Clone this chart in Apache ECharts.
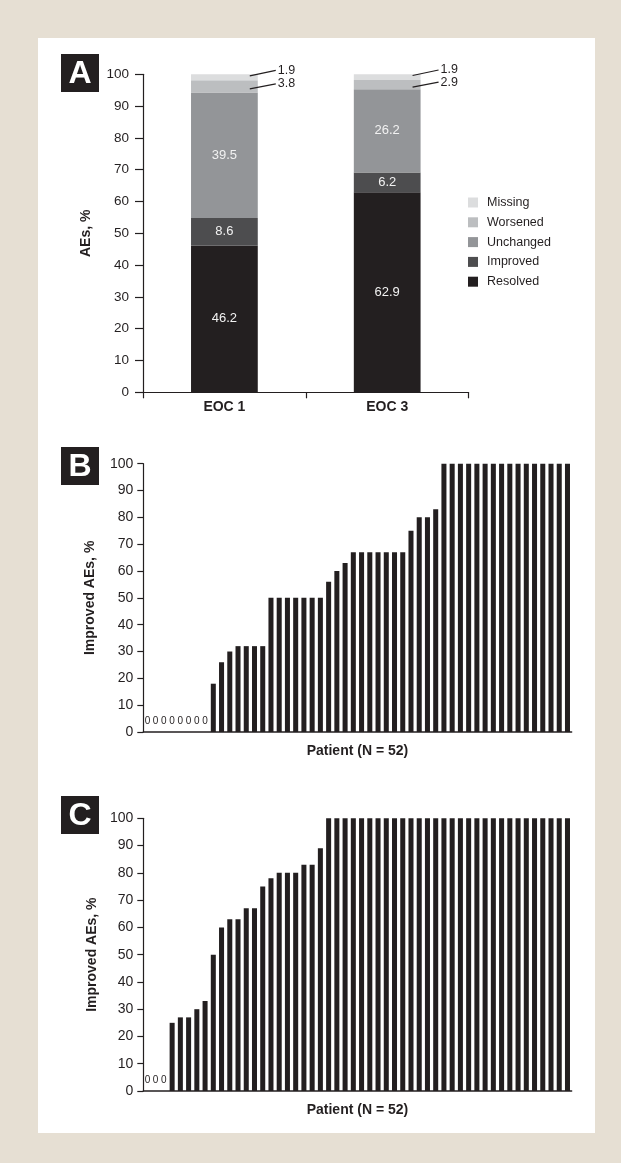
<!DOCTYPE html>
<html>
<head>
<meta charset="utf-8">
<script src="https://cdn.jsdelivr.net/npm/echarts@6/dist/echarts.min.js"></script>
<style>
  html, body { margin: 0; padding: 0; background: #e6dfd3; }
  #panel { position: absolute; left: 38px; top: 38px; width: 557px; height: 1095px; background: #ffffff; }
  #chart { position: absolute; left: 0; top: 0; width: 621px; height: 1163px; }
</style>
</head>
<body>
<div id="panel"></div>
<div id="chart"></div>
<script>
// ---- Panel A data ----
const categoriesA = ['EOC 1', 'EOC 3'];
const resolved  = [46.2, 62.9];
const improved  = [8.6, 6.2];
const unchanged = [39.5, 26.2];
const worsened  = [3.8, 2.9];
const missing   = [1.9, 1.9];
const legendA   = ['Missing', 'Worsened', 'Unchanged', 'Improved', 'Resolved'];

// ---- Panel B data (52 patients) ----
const valuesB = [0, 0, 0, 0, 0, 0, 0, 0,
  18, 26, 30, 32, 32, 32, 32,
  50, 50, 50, 50, 50, 50, 50,
  56, 60, 63,
  67, 67, 67, 67, 67, 67, 67,
  75, 80, 80, 83,
  100, 100, 100, 100, 100, 100, 100, 100, 100, 100, 100, 100, 100, 100, 100, 100];

// ---- Panel C data (52 patients) ----
const valuesC = [0, 0, 0,
  25, 27, 27, 30, 33, 50, 60, 63, 63, 67, 67, 75, 78, 80, 80, 80, 83, 83, 89,
  100, 100, 100, 100, 100, 100, 100, 100, 100, 100,
  100, 100, 100, 100, 100, 100, 100, 100, 100, 100,
  100, 100, 100, 100, 100, 100, 100, 100, 100, 100];

const patientsB = valuesB.map((v, i) => String(i + 1));
const patientsC = valuesC.map((v, i) => String(i + 1));

const FONT = 'Liberation Sans, Arial, Helvetica, sans-serif';
const INK = '#231f20';
const colors = {
  Resolved: '#231f20', Improved: '#4d4d4f', Unchanged: '#939598', Worsened: '#bcbec0', Missing: '#dcddde'
};

// outside labels (Missing, Worsened) at stack midpoints
const outside = [];
categoriesA.forEach((c, i) => {
  const baseW = resolved[i] + improved[i] + unchanged[i];
  outside.push([i, baseW + worsened[i] / 2, 1, worsened[i]]);
  const baseM = baseW + worsened[i];
  outside.push([i, baseM + missing[i] / 2, 0, missing[i]]);
});

const BARW_A = 0.41;

function stackSeries(name, data, showLabel) {
  return {
    name: name, type: 'bar', stack: 'a', xAxisIndex: 0, yAxisIndex: 0,
    data: data, barWidth: (BARW_A * 100) + '%',
    itemStyle: { color: colors[name] },
    label: { show: showLabel, position: 'inside', color: '#f2f2f2', fontFamily: FONT, fontSize: 13,
      formatter: p => p.value.toFixed(1) },
    emphasis: { disabled: true }
  };
}

function yAxisCommon(grid, name, nameGap, fontSize, tickLen, margin) {
  return {
    type: 'value', gridIndex: grid, min: 0, max: 100, interval: 10,
    name: name, nameLocation: 'middle', nameRotate: 90, nameGap: nameGap,
    nameTextStyle: { fontFamily: FONT, fontSize: 14, fontWeight: 'bold', color: INK },
    axisLine: { show: true, lineStyle: { color: INK, width: 1.2 } },
    axisTick: { show: true, inside: false, length: tickLen, lineStyle: { color: INK, width: 1.2 } },
    axisLabel: { fontFamily: FONT, fontSize: fontSize, color: INK, margin: margin },
    splitLine: { show: false }
  };
}

const patientBar = (grid, data) => ({
  type: 'bar', xAxisIndex: grid, yAxisIndex: grid, data: data, barWidth: '61%',
  itemStyle: { color: INK },
  label: { show: true, position: 'top', distance: 6, fontFamily: FONT, fontSize: 10, color: INK,
    formatter: p => (p.value === 0 ? '0' : '') },
  emphasis: { disabled: true }
});

const option = {
  animation: false,
  backgroundColor: 'transparent',
  grid: [
    { left: 143, right: 152.4, top: 74.3, bottom: 770.7 },
    { left: 143.3, right: 49.4, top: 463.7, bottom: 431 },
    { left: 143.3, right: 49.4, top: 818.3, bottom: 72 }
  ],
  legend: {
    orient: 'vertical', left: 463, top: 191, data: legendA,
    itemWidth: 10, itemHeight: 10, itemGap: 6.8, icon: 'rect',
    textStyle: { fontFamily: FONT, fontSize: 12.5, color: INK, padding: [0, 0, 0, 4] },
    selectedMode: false
  },
  xAxis: [
    { type: 'category', gridIndex: 0, data: categoriesA,
      axisLine: { lineStyle: { color: INK, width: 1.2 } },
      axisTick: { show: true, inside: false, length: 6, lineStyle: { color: INK, width: 1.2 } },
      axisLabel: { fontFamily: FONT, fontSize: 14, fontWeight: 'bold', color: INK, margin: 8 } },
    { type: 'category', gridIndex: 1, data: patientsB,
      name: 'Patient (N = 52)', nameLocation: 'middle', nameGap: 12,
      nameTextStyle: { fontFamily: FONT, fontSize: 14, fontWeight: 'bold', color: INK },
      axisLine: { lineStyle: { color: INK, width: 1.5 } },
      axisTick: { show: false }, axisLabel: { show: false } },
    { type: 'category', gridIndex: 2, data: patientsC,
      name: 'Patient (N = 52)', nameLocation: 'middle', nameGap: 12,
      nameTextStyle: { fontFamily: FONT, fontSize: 14, fontWeight: 'bold', color: INK },
      axisLine: { lineStyle: { color: INK, width: 1.5 } },
      axisTick: { show: false }, axisLabel: { show: false } }
  ],
  yAxis: [
    yAxisCommon(0, 'AEs, %', 50, 13.5, 8, 14),
    yAxisCommon(1, 'Improved AEs, %', 46, 14, 6, 10),
    yAxisCommon(2, 'Improved AEs, %', 40, 14, 6, 10)
  ],
  series: [
    stackSeries('Resolved', resolved, true),
    stackSeries('Improved', improved, true),
    stackSeries('Unchanged', unchanged, true),
    stackSeries('Worsened', worsened, false),
    stackSeries('Missing', missing, false),
    {
      type: 'custom', xAxisIndex: 0, yAxisIndex: 0, data: outside, silent: true, z: 5,
      renderItem: function (params, api) {
        const idx = api.value(0), mid = api.value(1), seg = api.value(2), txt = api.value(3);
        const p = api.coord([idx, mid]);
        const bw = api.size([1, 0])[0] * BARW_A;
        const right = p[0] + bw / 2;
        const y1 = p[1] + (seg === 0 ? -1.5 : 2.5);
        const y2 = p[1] + (seg === 0 ? -7 : -2.5);
        const x1 = right - 8, x2 = right + 18;
        return {
          type: 'group',
          children: [
            { type: 'line', shape: { x1: x1, y1: y1, x2: x2, y2: y2 }, style: { stroke: INK, lineWidth: 1.2 } },
            { type: 'text', x: x2 + 2, y: y2, style: { text: Number(txt).toFixed(1), fontFamily: FONT, fontSize: 12.5,
              fill: INK, verticalAlign: 'middle', align: 'left' } }
          ]
        };
      }
    },
    patientBar(1, valuesB),
    patientBar(2, valuesC)
  ],
  graphic: [
    { type: 'group', left: 61, top: 54, children: [
      { type: 'rect', shape: { x: 0, y: 0, width: 38, height: 38 }, style: { fill: INK } },
      { type: 'text', x: 19, y: 20, style: { text: 'A', fill: '#fff', fontFamily: FONT, fontSize: 32, fontWeight: 'bold', align: 'center', verticalAlign: 'middle' } }
    ] },
    { type: 'group', left: 61, top: 447, children: [
      { type: 'rect', shape: { x: 0, y: 0, width: 38, height: 38 }, style: { fill: INK } },
      { type: 'text', x: 19, y: 20, style: { text: 'B', fill: '#fff', fontFamily: FONT, fontSize: 32, fontWeight: 'bold', align: 'center', verticalAlign: 'middle' } }
    ] },
    { type: 'group', left: 61, top: 796, children: [
      { type: 'rect', shape: { x: 0, y: 0, width: 38, height: 38 }, style: { fill: INK } },
      { type: 'text', x: 19, y: 20, style: { text: 'C', fill: '#fff', fontFamily: FONT, fontSize: 32, fontWeight: 'bold', align: 'center', verticalAlign: 'middle' } }
    ] }
  ]
};

const chart = echarts.init(document.getElementById('chart'), null, { renderer: 'canvas' });
chart.setOption(option);
</script>
</body>
</html>
